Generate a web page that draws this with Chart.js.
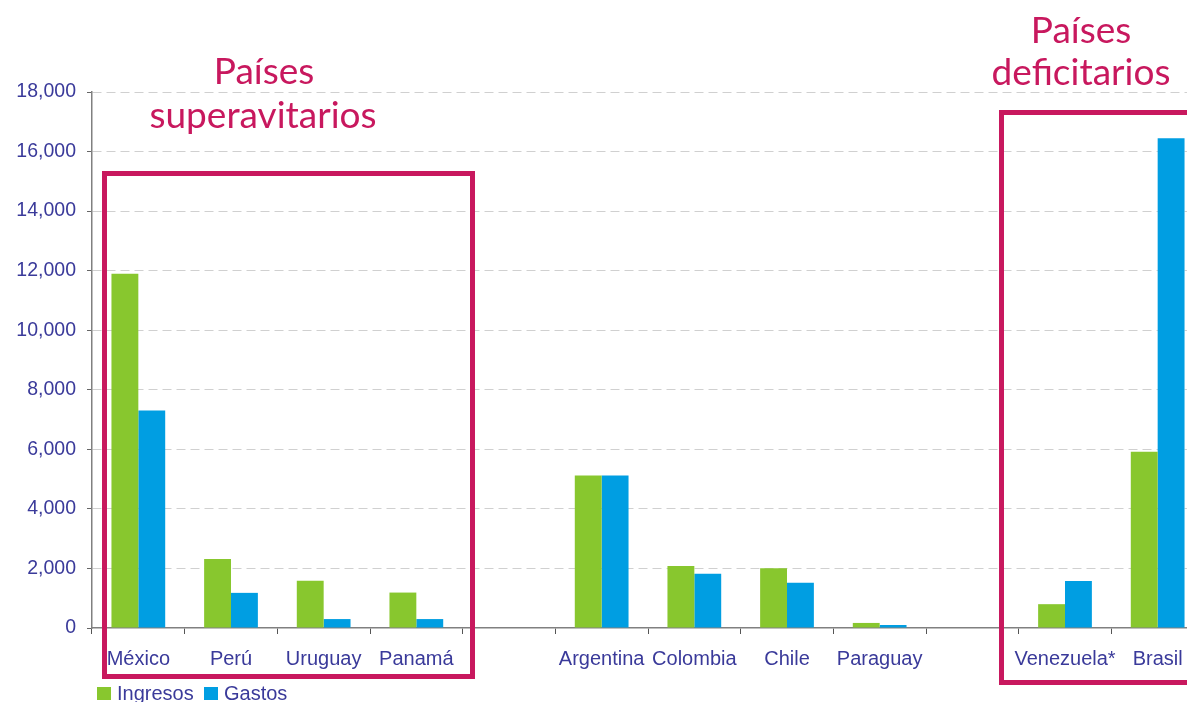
<!DOCTYPE html>
<html>
<head>
<meta charset="utf-8">
<script src="https://cdn.jsdelivr.net/npm/chart.js@4/dist/chart.umd.min.js"></script>
<style>
  html, body { margin: 0; padding: 0; background: #fff; overflow: hidden; }
  #wrap { position: relative; width: 1206px; height: 702px; }
</style>
</head>
<body>
<div id="wrap"><canvas id="c"></canvas></div>
<script>
const categories = ['México', 'Perú', 'Uruguay', 'Panamá', '', 'Argentina', 'Colombia', 'Chile', 'Paraguay', '', 'Venezuela*', 'Brasil'];
const ingresos = [11900, 2320, 1590, 1190, null, 5120, 2080, 2010, 170, null, 800, 5920];
const gastos   = [7300, 1180, 300, 300, null, 5120, 1820, 1520, 100, null, 1580, 16450];
const seriesNames = ['Ingresos', 'Gastos'];
const yTicks = { min: 0, max: 18000, step: 2000 };
const groupLabels = [
  { lines: ['Países', 'superavitarios'] },
  { lines: ['Países', 'deficitarios'] }
];

const GREEN = '#88C72E', BLUE = '#009EE2', TXT = '#3A3A9A', MAG = '#C8185E';
const FONT = '"Liberation Sans", Arial, sans-serif';

const decor = {
  id: 'decor',
  afterDraw(chart) {
    const ctx = chart.ctx;
    ctx.save();
    // group boxes
    ctx.strokeStyle = MAG;
    ctx.lineWidth = 5;
    ctx.strokeRect(104.5, 173.5, 368, 503);
    ctx.strokeRect(1001.5, 112.5, 260, 570);
    // group titles
    ctx.fillStyle = MAG;
    ctx.font = '400 37px Lato';
    ctx.textAlign = 'center';
    ctx.textBaseline = 'alphabetic';
    ctx.fillText(groupLabels[0].lines[0], 264, 84);
    ctx.fillText(groupLabels[0].lines[1], 263, 128);
    ctx.fillText(groupLabels[1].lines[0], 1081, 43);
    ctx.fillText(groupLabels[1].lines[1], 1081, 85);
    // legend
    ctx.font = '20px ' + FONT;
    ctx.textAlign = 'left';
    ctx.textBaseline = 'middle';
    const items = chart.data.datasets;
    const xs = [97, 204];
    items.forEach((ds, i) => {
      ctx.fillStyle = ds.backgroundColor;
      ctx.fillRect(xs[i], 687, 14, 13);
      ctx.fillStyle = TXT;
      ctx.fillText(ds.label, xs[i] + 20, 694);
    });
    ctx.restore();
  }
};

new Chart(document.getElementById('c'), {
  type: 'bar',
  data: {
    labels: categories,
    datasets: [
      { label: seriesNames[0], data: ingresos, backgroundColor: GREEN },
      { label: seriesNames[1], data: gastos, backgroundColor: BLUE }
    ]
  },
  options: {
    responsive: true,
    maintainAspectRatio: false,
    animation: false,
    layout: { padding: { top: 92, left: 0, right: 2, bottom: 0 } },
    datasets: { bar: { categoryPercentage: 0.58, barPercentage: 1.0 } },
    plugins: { legend: { display: false }, tooltip: { enabled: false } },
    scales: {
      x: {
        afterFit(s) { s.height = 74; },
        grid: { display: true, drawOnChartArea: false, drawTicks: true, tickLength: 6, tickColor: '#555', offset: true },
        border: { display: true, color: '#808080', width: 1.5 },
        ticks: { color: TXT, font: { family: FONT, size: 20 }, padding: 13, maxRotation: 0, autoSkip: false }
      },
      y: {
        min: yTicks.min, max: yTicks.max,
        afterFit(s) { s.width = 92; },
        grid: {
          color: (c) => c.tick && c.tick.value === 0 ? 'rgba(0,0,0,0)' : '#D0D0D0',
          lineWidth: 1,
          drawTicks: true, tickLength: 5, tickColor: '#666', tickBorderDash: []
        },
        border: { display: true, color: '#808080', width: 1.5, dash: [9, 5] },
        ticks: { stepSize: yTicks.step, color: TXT, font: { family: FONT, size: 19.5 }, padding: 11 }
      }
    }
  },
  plugins: [decor]
});
</script>
</body>
</html>
